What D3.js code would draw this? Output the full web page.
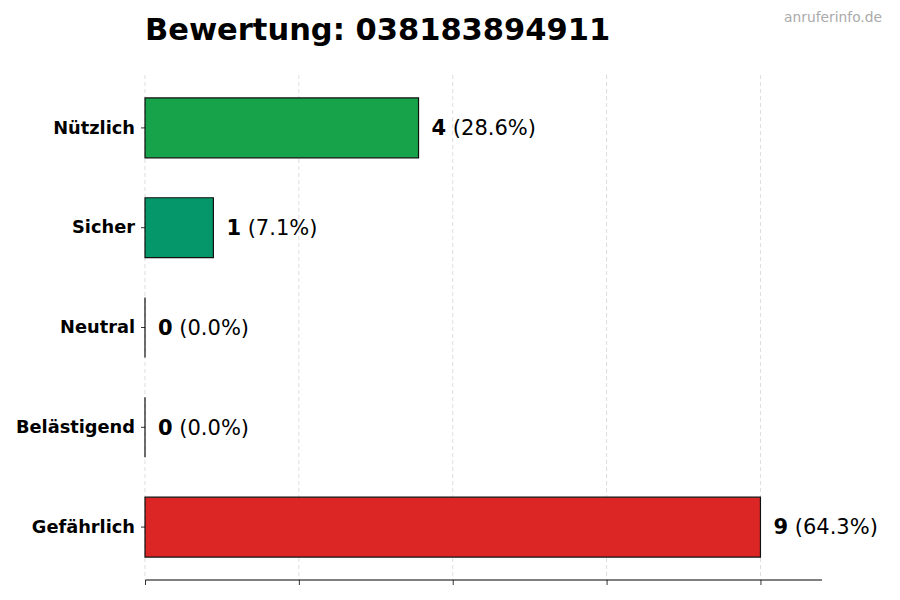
<!DOCTYPE html>
<html>
<head>
<meta charset="utf-8">
<script src="https://cdn.jsdelivr.net/npm/d3@7"></script>
<style>
  body { margin: 0; background: #fff; }
  text { font-family: "DejaVu Sans", sans-serif; }
</style>
</head>
<body>
<svg id="svg1" width="900" height="600"></svg>
<script>
const titleText = 'Bewertung: 038183894911';
const watermarkText = 'anruferinfo.de';

// categories top to bottom, with counts and colours
const categories = ['Nützlich', 'Sicher', 'Neutral', 'Belästigend', 'Gefährlich'];
const counts = [4, 1, 0, 0, 9];
const percents = ['28.6%', '7.1%', '0.0%', '0.0%', '64.3%'];
const barColors = ['#16a34a', '#059669', '#6b7280', '#f59e0b', '#dc2626'];
const xTicks = [0, 2.25, 4.5, 6.75, 9];

const svg = d3.select('#svg1');
const width = +svg.attr('width');
const height = +svg.attr('height');

const margin = { top: 75, right: 78, bottom: 20, left: 145 };
const innerWidth = width - margin.left - margin.right;
const innerHeight = height - margin.top - margin.bottom;

const data = categories.map((c, i) => ({ cat: c, n: counts[i], pct: percents[i], color: barColors[i] }));

const xScale = d3.scaleLinear()
  .domain([0, d3.max(counts) * 1.1])
  .range([0, innerWidth]);

const yScale = d3.scaleBand()
  .domain(categories)
  .range([0, innerHeight])
  .paddingInner(0.4)
  .paddingOuter(0.23);

const g = svg.append('g')
  .attr('transform', `translate(${margin.left},${margin.top})`);

// dashed vertical grid
g.selectAll('line.grid').data(xTicks)
  .enter().append('line')
    .attr('class', 'grid')
    .attr('x1', d => xScale(d)).attr('x2', d => xScale(d))
    .attr('y1', 0).attr('y2', innerHeight)
    .attr('stroke', '#d4d4d4')
    .attr('stroke-width', 0.8)
    .attr('stroke-dasharray', '4,3');

// bars as paths so a zero bar still shows its edge
g.selectAll('path.bar').data(data)
  .enter().append('path')
    .attr('class', 'bar')
    .attr('d', d => {
      const x0 = xScale(0), y0 = yScale(d.cat);
      const w = xScale(d.n) - x0, h = yScale.bandwidth();
      return `M${x0},${y0}h${w}v${h}h${-w}Z`;
    })
    .attr('fill', d => d.color)
    .attr('stroke', '#111')
    .attr('stroke-width', 1.2);

// value labels: bold count + normal percent
const labels = g.selectAll('text.val').data(data)
  .enter().append('text')
    .attr('class', 'val')
    .attr('x', d => xScale(d.n) + 13)
    .attr('y', d => yScale(d.cat) + yScale.bandwidth() / 2)
    .attr('dy', '0.35em')
    .attr('font-size', 21)
    .attr('fill', '#000');
labels.append('tspan').attr('font-weight', 'bold').text(d => d.n);
labels.append('tspan').text(d => ` (${d.pct})`);

// y axis: tick marks and bold labels, no spine
const yAxisG = g.append('g')
  .call(d3.axisLeft(yScale).tickSize(4).tickPadding(6));
yAxisG.select('.domain').remove();
yAxisG.selectAll('.tick line').attr('stroke', '#000').attr('stroke-width', 0.8);
yAxisG.selectAll('text')
  .attr('font-family', '"DejaVu Sans", sans-serif')
  .attr('font-size', 17.8)
  .attr('font-weight', 'bold')
  .attr('fill', '#000');

// x axis: spine and ticks only
const xAxisG = g.append('g')
  .attr('transform', `translate(0,${innerHeight})`)
  .call(d3.axisBottom(xScale).tickValues(xTicks).tickSize(5).tickFormat(''));
xAxisG.select('.domain').attr('stroke', '#000').attr('stroke-width', 1).attr('d', `M0.5,0H${innerWidth}`);
xAxisG.selectAll('.tick line').attr('stroke', '#000').attr('stroke-width', 0.8);

// title
svg.append('text')
  .attr('x', margin.left)
  .attr('y', 40)
  .attr('font-size', 30.5)
  .attr('font-weight', 'bold')
  .attr('fill', '#000')
  .text(titleText);

// watermark
svg.append('text')
  .attr('x', 882)
  .attr('y', 22)
  .attr('text-anchor', 'end')
  .attr('font-size', 13.8)
  .attr('fill', '#aaa')
  .text(watermarkText);
</script>
</body>
</html>
